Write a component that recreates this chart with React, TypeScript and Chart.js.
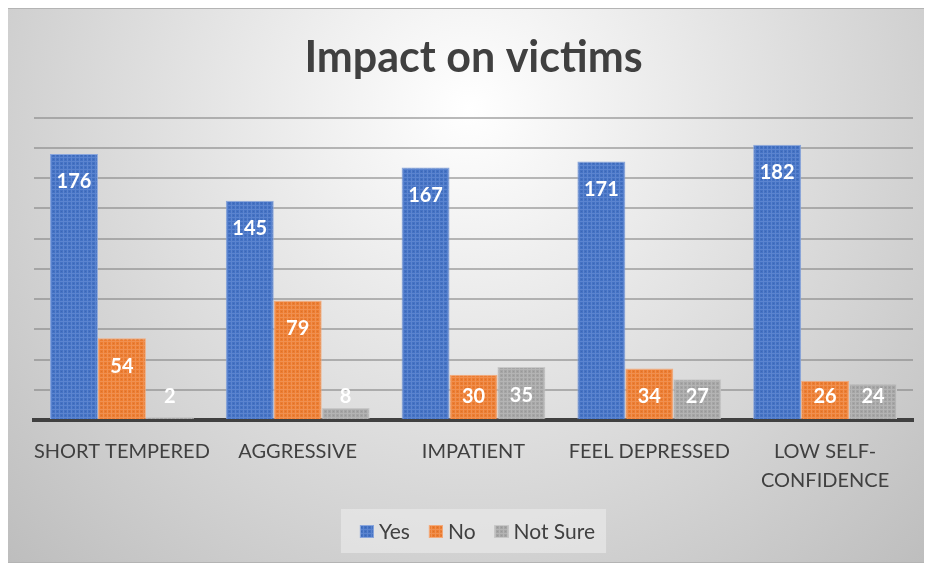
import React, { useEffect, useRef } from 'react';
import { Chart, registerables } from 'chart.js';

Chart.register(...registerables);

const chartTitle = 'Impact on victims';
const categories = ['SHORT TEMPERED', 'AGGRESSIVE', 'IMPATIENT', 'FEEL DEPRESSED', 'LOW SELF-CONFIDENCE'];
const seriesNames = ['Yes', 'No', 'Not Sure'];
const yesValues = [176, 145, 167, 171, 182];
const noValues = [54, 79, 30, 34, 26];
const notSureValues = [2, 8, 35, 27, 24];
const yMin = 0;
const yMax = 200;
const yStep = 20;

const FONT = 'Lato, "Open Sans", sans-serif';
const TEXT = '#404040';

function makePattern(base: string, light: string, dark: string) {
  const c = document.createElement('canvas');
  c.width = 4;
  c.height = 4;
  const x = c.getContext('2d')!;
  x.fillStyle = base;
  x.fillRect(0, 0, 4, 4);
  x.fillStyle = light;
  x.fillRect(0, 1, 4, 1);
  x.fillRect(1, 0, 1, 4);
  x.fillStyle = dark;
  x.fillRect(3, 3, 1, 1);
  return x.createPattern(c, 'repeat')!;
}

const backgroundPlugin = {
  id: 'bgPlugin',
  beforeDraw(chart: any) {
    const { ctx, width, height } = chart;
    ctx.save();
    const g = ctx.createRadialGradient(width / 2, 100, 0, width / 2, 100, 680);
    g.addColorStop(0, '#ffffff');
    g.addColorStop(1, '#bababa');
    ctx.fillStyle = g;
    ctx.fillRect(0, 0, width, height);
    ctx.strokeStyle = '#b4b4b4';
    ctx.lineWidth = 1;
    ctx.strokeRect(0.5, 0.5, width - 1, height - 1);
    ctx.restore();
  },
};

const dataLabelPlugin = {
  id: 'valueLabels',
  afterDatasetsDraw(chart: any) {
    const { ctx } = chart;
    const base = chart.scales.y.getPixelForValue(0);
    ctx.save();
    ctx.font = `bold 20px ${FONT}`;
    ctx.fillStyle = '#ffffff';
    ctx.textAlign = 'center';
    ctx.textBaseline = 'middle';
    chart.data.datasets.forEach((ds: any, i: number) => {
      const meta = chart.getDatasetMeta(i);
      meta.data.forEach((el: any, j: number) => {
        const y = Math.min(el.y + 28, base - 23);
        ctx.fillText(String(ds.data[j]), el.x, y);
      });
    });
    ctx.restore();
  },
};

const legendPlugin = {
  id: 'customLegend',
  afterDraw(chart: any) {
    const { ctx, chartArea } = chart;
    ctx.save();
    ctx.font = `21px ${FONT}`;
    const items = chart.data.datasets.map((ds: any) => ({
      label: ds.label,
      fill: ds.backgroundColor,
      border: ds.borderColor,
      w: ctx.measureText(ds.label).width,
    }));
    const box = 14;
    const gap = 5;
    const itemGap = 19;
    const total = items.reduce((s: number, it: any) => s + box + gap + it.w, 0) + itemGap * (items.length - 1);
    const cx = (chartArea.left + chartArea.right) / 2 + 4;
    const cy = 523;
    const x0 = cx - total / 2;
    ctx.fillStyle = 'rgba(232,232,232,0.7)';
    ctx.fillRect(x0 - 19, cy - 22, total + 30, 44);
    let x = x0;
    items.forEach((it: any) => {
      ctx.fillStyle = it.fill;
      ctx.fillRect(x, cy - 6, box, 13);
      ctx.strokeStyle = it.border;
      ctx.lineWidth = 1;
      ctx.strokeRect(x + 0.5, cy - 5.5, box - 1, 12);
      ctx.fillStyle = TEXT;
      ctx.textAlign = 'left';
      ctx.textBaseline = 'middle';
      ctx.fillText(it.label, x + box + gap, cy + 1);
      x += box + gap + it.w + itemGap;
    });
    ctx.restore();
  },
};

export default function App() {
  const ref = useRef<HTMLCanvasElement | null>(null);
  useEffect(() => {
    if (!ref.current) return;
    const blue = makePattern('#4472c4', '#5b84cf', '#3d67b3');
    const orange = makePattern('#ed7d31', '#f09050', '#d9712c');
    const gray = makePattern('#a5a5a5', '#b4b4b4', '#989898');
    const chart = new Chart(ref.current, {
      type: 'bar',
      data: {
        labels: categories,
        datasets: [
          { label: seriesNames[0], data: yesValues, backgroundColor: blue as any, borderColor: '#8aa6dc', borderWidth: 1 },
          { label: seriesNames[1], data: noValues, backgroundColor: orange as any, borderColor: '#f4ab7c', borderWidth: 1 },
          { label: seriesNames[2], data: notSureValues, backgroundColor: gray as any, borderColor: '#c8c8c8', borderWidth: 1 },
        ],
      },
      options: {
        responsive: false,
        animation: false,
        layout: { padding: { left: 28, right: 19, top: 0, bottom: 0 } },
        datasets: { bar: { categoryPercentage: 0.818, barPercentage: 1 } },
        plugins: {
          legend: { display: false },
          tooltip: { enabled: false },
          title: {
            display: true,
            text: chartTitle,
            color: TEXT,
            font: { family: FONT, size: 43, weight: 'bold' },
            padding: { top: 24, bottom: 34 },
          },
        },
        scales: {
          x: {
            grid: { display: false, drawTicks: false },
            border: { display: true, color: '#404040', width: 4 },
            ticks: {
              color: TEXT,
              font: { family: FONT, size: 20, lineHeight: 1.45 },
              padding: 17,
              maxRotation: 0,
              autoSkip: false,
              callback: function (this: any, v: any) {
                const s = categories[v as number];
                if (s.length > 16 && s.includes('-')) {
                  const k = s.indexOf('-') + 1;
                  return [s.slice(0, k), s.slice(k)];
                }
                return s;
              },
            },
            afterFit: (scale: any) => {
              scale.height = 143;
            },
          },
          y: {
            min: yMin,
            max: yMax,
            ticks: { display: false, stepSize: yStep },
            border: { display: false },
            grid: { color: 'rgba(130,130,130,0.55)', lineWidth: 2, drawTicks: false },
            afterFit: (scale: any) => {
              scale.width = 0;
            },
          },
        },
      },
      plugins: [backgroundPlugin, dataLabelPlugin, legendPlugin],
    });
    return () => chart.destroy();
  }, []);
  return (
    <div style={{ width: 926, height: 555, marginLeft: -2 }}>
      <canvas ref={ref} width={926} height={555} style={{ display: 'block' }} />
    </div>
  );
}
